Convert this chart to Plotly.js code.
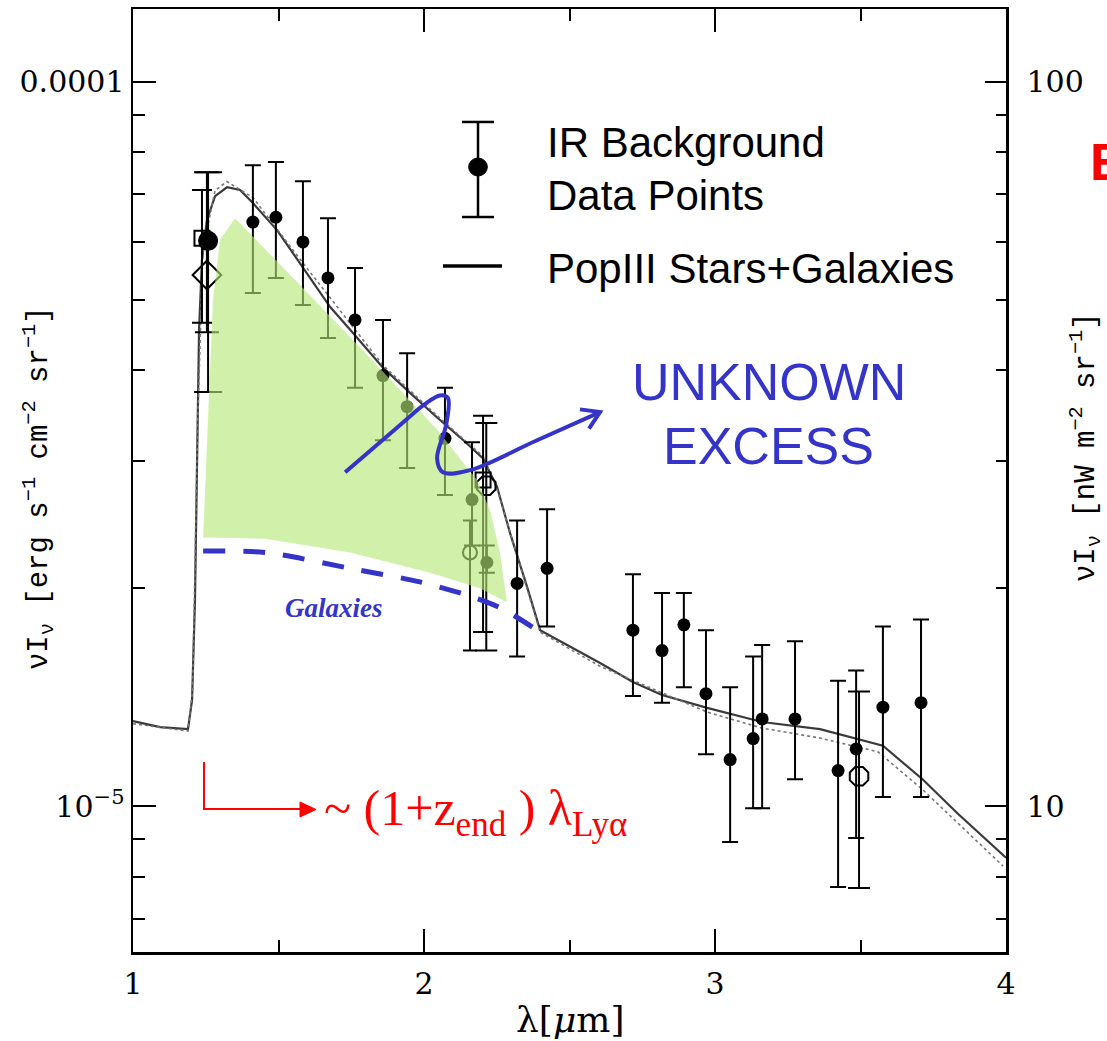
<!DOCTYPE html>
<html>
<head>
<meta charset="utf-8">
<script src="https://cdn.plot.ly/plotly-3.0.1.min.js"></script>
<style>
  html, body { margin: 0; padding: 0; background: #ffffff; }
  #chart { width: 1107px; height: 1041px; }
</style>
</head>
<body>
<div id="chart"></div>
<script>
// ---- IR background measurements: wavelength [um], nuI_nu [erg s^-1 cm^-2 sr^-1], upper / lower bounds
const ptLam = [1.412, 1.491, 1.584, 1.670, 1.763, 1.859, 1.942, 2.072, 2.165, 2.216, 2.320, 2.423,
               2.718, 2.818, 2.893, 2.969, 3.052, 3.131, 3.162, 3.275, 3.423, 3.485, 3.577, 3.708];
const ptVal = [6.40e-5, 6.50e-5, 6.01e-5, 5.36e-5, 4.69e-5, 3.93e-5, 3.56e-5, 3.22e-5, 2.65e-5, 2.17e-5, 2.03e-5, 2.13e-5,
               1.75e-5, 1.64e-5, 1.78e-5, 1.43e-5, 1.16e-5, 1.24e-5, 1.32e-5, 1.32e-5, 1.12e-5, 1.20e-5, 1.37e-5, 1.39e-5];
const ptHi  = [7.67e-5, 7.75e-5, 7.29e-5, 6.48e-5, 5.53e-5, 4.69e-5, 4.22e-5, 3.78e-5, 3.18e-5, 2.29e-5, 2.48e-5, 2.57e-5,
               2.09e-5, 1.97e-5, 1.97e-5, 1.75e-5, 1.46e-5, 1.61e-5, 1.67e-5, 1.69e-5, 1.49e-5, 1.54e-5, 1.77e-5, 1.81e-5];
const ptLo  = [5.11e-5, 5.36e-5, 4.92e-5, 4.43e-5, 3.78e-5, 3.20e-5, 2.93e-5, 2.69e-5, 2.29e-5, 2.10e-5, 1.61e-5, 1.77e-5,
               1.42e-5, 1.39e-5, 1.46e-5, 1.18e-5, 8.93e-6, 9.94e-6, 9.94e-6, 1.09e-5, 7.74e-6, 9.04e-6, 1.03e-5, 1.03e-5];

// J-band point (large filled circle)
const jLam = [1.258];
const jVal = [6.03e-5];
const jHi  = [7.50e-5];
const jLo  = [3.73e-5];

// other estimates drawn with open symbols
const sqLam = [1.237, 2.203];
const sqVal = [6.08e-5, 2.82e-5];
const sqHi  = [7.09e-5, 3.46e-5];
const sqLo  = [4.65e-5, 1.74e-5];

const diLam = [1.254];
const diVal = [5.41e-5];
const diHi  = [7.50e-5];
const diLo  = [4.51e-5];

const ocLam = [2.214, 3.495];
const ocVal = [2.77e-5, 1.10e-5];
const ocHi  = [3.38e-5, 1.44e-5];
const ocLo  = [1.64e-5, 7.71e-6];

const opLam = [2.158];
const opVal = [2.24e-5];
const opHi  = [2.48e-5];
const opLo  = [1.64e-5];

// ---- PopIII stars + galaxies model
const modelLam = [1.000, 1.093, 1.189, 1.203, 1.213, 1.220, 1.227, 1.237, 1.254, 1.282, 1.323, 1.368,
                  1.412, 1.495, 1.584, 1.677, 1.756, 1.859, 1.952, 2.045, 2.124, 2.203, 2.251, 2.296,
                  2.354, 2.399, 2.605, 2.718, 2.818, 2.973, 3.162, 3.361, 3.577, 3.715, 3.832, 4.000];
const modelVal = [1.311e-5, 1.286e-5, 1.278e-5, 1.402e-5, 1.927e-5, 3.202e-5, 4.54e-5, 5.67e-5, 6.44e-5, 6.95e-5, 7.15e-5, 7.09e-5,
                  6.80e-5, 6.24e-5, 5.55e-5, 4.89e-5, 4.50e-5, 4.03e-5, 3.72e-5, 3.44e-5, 3.23e-5, 3.02e-5, 2.76e-5, 2.38e-5,
                  2.01e-5, 1.75e-5, 1.577e-5, 1.484e-5, 1.424e-5, 1.367e-5, 1.307e-5, 1.278e-5, 1.212e-5, 1.088e-5, 9.79e-6, 8.49e-6];
// model variant (dotted)
const altLam = [1.000, 1.189, 1.205, 1.222, 1.240, 1.282, 1.323, 1.412, 1.584, 1.859, 2.045, 2.203, 2.251, 2.399,
                2.605, 2.973, 3.162, 3.361, 3.560, 3.715, 3.990];
const altVal = [1.300e-5, 1.270e-5, 1.45e-5, 3.35e-5, 5.85e-5, 7.08e-5, 7.28e-5, 6.92e-5, 5.62e-5, 4.06e-5, 3.46e-5, 3.04e-5, 2.74e-5, 1.74e-5,
                1.560e-5, 1.349e-5, 1.282e-5, 1.242e-5, 1.189e-5, 1.053e-5, 8.27e-6];

// ---- galaxies-only contribution
const galLam = [1.241, 1.454, 1.746, 1.986, 2.158, 2.261, 2.399];
const galVal = [2.25e-5, 2.24e-5, 2.13e-5, 2.04e-5, 1.95e-5, 1.88e-5, 1.74e-5];

// ---- excess region (shaded)
const excLam = [1.241, 1.254, 1.275, 1.299, 1.351, 1.574, 1.814, 2.045, 2.134, 2.182, 2.227, 2.261, 2.285,
                2.192, 2.021, 1.746, 1.454, 1.241];
const excVal = [2.35e-5, 3.20e-5, 5.00e-5, 6.05e-5, 6.48e-5, 5.24e-5, 4.16e-5, 3.31e-5, 2.99e-5, 2.82e-5, 2.56e-5, 2.24e-5, 1.913e-5,
                2.00e-5, 2.10e-5, 2.24e-5, 2.34e-5, 2.35e-5];

// ---- hand-drawn pointer toward "UNKNOWN EXCESS"
const curlLam = [1.729, 1.918, 2.003, 2.055, 2.082, 2.076, 2.045, 2.065, 2.158, 2.381, 2.605];
const curlVal = [2.89e-5, 3.36e-5, 3.59e-5, 3.69e-5, 3.66e-5, 3.36e-5, 3.02e-5, 2.89e-5, 2.91e-5, 3.19e-5, 3.50e-5];
const headLam = [2.536, 2.605, 2.567];
const headVal = [3.53e-5, 3.50e-5, 3.32e-5];

// ---- axis ticks
const yTickVals = [1e-5, 1e-4];
const yTickText = ['10<sup>\u22125</sup>', '0.0001'];
const y2TickVals = [10, 100];
const y2TickText = ['10', '100'];
const xTickVals = [1, 2, 3, 4];
const xTickText = ['1', '2', '3', '4'];

const BLUE = '#3434c8';
const RED = '#ff0000';

function errBars(val, hi, lo, capHalf) {
  return {
    type: 'data', symmetric: false,
    array: hi.map((h, i) => h - val[i]),
    arrayminus: lo.map((l, i) => val[i] - l),
    color: '#000000', thickness: 2, width: capHalf
  };
}

const traces = [
  { x: modelLam, y: modelVal, mode: 'lines', line: { color: '#3a3a3a', width: 2.2 }, hoverinfo: 'skip' },
  { x: altLam, y: altVal, mode: 'lines', line: { color: '#777777', width: 1.6, dash: 'dot' }, hoverinfo: 'skip' },
  { x: ptLam, y: ptVal, mode: 'markers', marker: { symbol: 'circle', size: 13, color: '#000000' },
    error_y: errBars(ptVal, ptHi, ptLo, 8) },
  { x: jLam, y: jVal, mode: 'markers', marker: { symbol: 'circle', size: 20, color: '#000000' },
    error_y: errBars(jVal, jHi, jLo, 14) },
  { x: sqLam, y: sqVal, mode: 'markers',
    marker: { symbol: 'square-open', size: 15, color: '#000000', line: { width: 2, color: '#000000' } },
    error_y: errBars(sqVal, sqHi, sqLo, 10) },
  { x: diLam, y: diVal, mode: 'markers',
    marker: { symbol: 'diamond-open', size: 22, color: '#000000', line: { width: 2, color: '#000000' } },
    error_y: errBars(diVal, diHi, diLo, 12) },
  { x: ocLam, y: ocVal, mode: 'markers',
    marker: { symbol: 'octagon-open', size: 20, color: '#000000', line: { width: 2, color: '#000000' } },
    error_y: errBars(ocVal, ocHi, ocLo, 11) },
  { x: opLam, y: opVal, mode: 'markers',
    marker: { symbol: 'circle-open', size: 14, color: '#000000', line: { width: 2, color: '#000000' } },
    error_y: errBars(opVal, opHi, opLo, 7) },
  { x: excLam, y: excVal, mode: 'lines', fill: 'toself', fillcolor: 'rgba(180,232,120,0.62)',
    line: { width: 0, color: 'rgba(0,0,0,0)' }, hoverinfo: 'skip' },
  { x: galLam, y: galVal, mode: 'lines', line: { color: BLUE, width: 5, dash: '22px,18px', shape: 'spline', smoothing: 0.8 },
    hoverinfo: 'skip' },
  { x: curlLam, y: curlVal, mode: 'lines', line: { color: BLUE, width: 4, shape: 'spline', smoothing: 1.0 }, hoverinfo: 'skip' },
  { x: headLam, y: headVal, mode: 'lines', line: { color: BLUE, width: 4 }, hoverinfo: 'skip' },
  // keep the right-hand nW scale and the top tick row attached to the plot
  { x: [null], y: [null], yaxis: 'y2', mode: 'markers', hoverinfo: 'skip' },
  { x: [null], y: [null], xaxis: 'x2', mode: 'markers', hoverinfo: 'skip' }
];

const tickFont = { family: 'DejaVu Serif', size: 30, color: '#000000' };
const titleFont = { family: 'Liberation Mono', size: 29, color: '#000000' };

function txt(text, x, y, font, extra) {
  return Object.assign({ text: text, x: x, y: y, xref: 'paper', yref: 'paper',
    xanchor: 'left', yanchor: 'middle', showarrow: false, font: font }, extra || {});
}

const legendFont = { family: 'Liberation Sans', size: 42, color: '#000000' };

const layout = {
  width: 1107, height: 1041,
  margin: { l: 133, r: 101, t: 9, b: 89 },
  paper_bgcolor: '#ffffff', plot_bgcolor: '#ffffff',
  showlegend: false,
  xaxis: {
    type: 'linear', range: [1, 4], tickmode: 'array', tickvals: xTickVals, ticktext: xTickText,
    ticks: 'inside', ticklen: 23, tickwidth: 2, tickcolor: '#000000',
    minor: { dtick: 0.5, tick0: 1, ticks: 'inside', ticklen: 12, tickwidth: 2, tickcolor: '#000000' },
    showline: true, linewidth: 2.5, linecolor: '#000000',
    showgrid: false, zeroline: false, tickfont: tickFont, ticklabelstandoff: 3
  },
  xaxis2: {
    type: 'linear', range: [1, 4], overlaying: 'x', side: 'top', anchor: 'y',
    tickmode: 'array', tickvals: xTickVals, showticklabels: false,
    ticks: 'inside', ticklen: 23, tickwidth: 2, tickcolor: '#000000',
    minor: { dtick: 0.5, tick0: 1, ticks: 'inside', ticklen: 12, tickwidth: 2, tickcolor: '#000000' },
    showline: true, linewidth: 2.5, linecolor: '#000000',
    showgrid: false, zeroline: false
  },
  yaxis: {
    type: 'log', range: [-5.2011, -3.8997], tickmode: 'array', tickvals: yTickVals, ticktext: yTickText,
    ticks: 'inside', ticklen: 23, tickwidth: 2, tickcolor: '#000000',
    minor: { dtick: 'D1', ticks: 'inside', ticklen: 12, tickwidth: 2, tickcolor: '#000000' },
    showline: true, linewidth: 2.5, linecolor: '#000000',
    showgrid: false, zeroline: false, tickfont: tickFont, ticklabelstandoff: 0
  },
  yaxis2: {
    type: 'log', range: [0.7989, 2.1003], overlaying: 'y', side: 'right', anchor: 'x',
    tickmode: 'array', tickvals: y2TickVals, ticktext: y2TickText,
    ticks: 'inside', ticklen: 21, tickwidth: 2, tickcolor: '#000000',
    minor: { dtick: 'D1', ticks: 'inside', ticklen: 10, tickwidth: 2, tickcolor: '#000000' },
    showline: true, linewidth: 2.5, linecolor: '#000000',
    showgrid: false, zeroline: false, tickfont: tickFont, ticklabelstandoff: 12
  },
  shapes: [
    // legend: error-bar symbol
    { type: 'line', xref: 'paper', yref: 'paper', x0: 0.3952, x1: 0.3952, y0: 0.8802, y1: 0.7794,
      line: { color: '#000000', width: 2.5 } },
    { type: 'line', xref: 'paper', yref: 'paper', x0: 0.3769, x1: 0.4135, y0: 0.8802, y1: 0.8802,
      line: { color: '#000000', width: 2.5 } },
    { type: 'line', xref: 'paper', yref: 'paper', x0: 0.3769, x1: 0.4135, y0: 0.7794, y1: 0.7794,
      line: { color: '#000000', width: 2.5 } },
    { type: 'circle', xref: 'paper', yref: 'paper', x0: 0.3845, x1: 0.4059, y0: 0.8229, y1: 0.8420,
      fillcolor: '#000000', line: { color: '#000000', width: 1 } },
    // legend: model line
    { type: 'line', xref: 'paper', yref: 'paper', x0: 0.3551, x1: 0.4227, y0: 0.7275, y1: 0.7275,
      line: { color: '#000000', width: 3.5 } },
    // redshifted Lyman-alpha pointer
    { type: 'path', xref: 'paper', yref: 'paper', path: 'M 0.0813 0.2015 L 0.0813 0.1516 L 0.1913 0.1516',
      line: { color: RED, width: 2 } },
    { type: 'path', xref: 'paper', yref: 'paper', path: 'M 0.1913 0.1591 L 0.1913 0.1432 L 0.2096 0.1511 Z',
      fillcolor: RED, line: { color: RED, width: 1 } }
  ],
  annotations: [
    txt('IR Background', 0.4719, 0.8589, legendFont),
    txt('Data Points', 0.4719, 0.8017, legendFont),
    txt('PopIII Stars+Galaxies', 0.4719, 0.7253, legendFont),
    txt('UNKNOWN', 0.7285, 0.6045, { family: 'Liberation Sans', size: 52, color: BLUE }, { xanchor: 'center' }),
    txt('EXCESS', 0.7285, 0.5366, { family: 'Liberation Sans', size: 52, color: BLUE }, { xanchor: 'center' }),
    txt('<b><i>Galaxies</i></b>', 0.2297, 0.3648, { family: 'Liberation Serif', size: 27, color: BLUE }, { xanchor: 'center' }),
    txt('~ (1+z<sub>end</sub> ) \u03bb<sub>Ly\u03b1</sub>', 0.2165, 0.1480, { family: 'Liberation Serif', size: 50, color: RED }),
    txt('<b>E</b>', 1.094, 0.8378, { family: 'Liberation Sans', size: 52, color: RED }),
    txt('\u03bdI<sub>\u03bd</sub> [erg s<sup>\u22121</sup> cm<sup>\u22122</sup> sr<sup>\u22121</sup>]', -0.1088, 0.492, titleFont,
        { xanchor: 'center', textangle: -90 }),
    txt('\u03bdI<sub>\u03bd</sub> [nW m<sup>\u22122</sup> sr<sup>\u22121</sup>]', 1.0905, 0.5355, titleFont,
        { xanchor: 'center', textangle: -90 }),
    txt('\u03bb[<i>\u03bc</i>m]', 0.5, -0.0721, { family: 'DejaVu Serif', size: 36, color: '#000000' }, { xanchor: 'center' })
  ]
};

Plotly.newPlot('chart', traces, layout, { staticPlot: true, displayModeBar: false });
</script>
</body>
</html>
